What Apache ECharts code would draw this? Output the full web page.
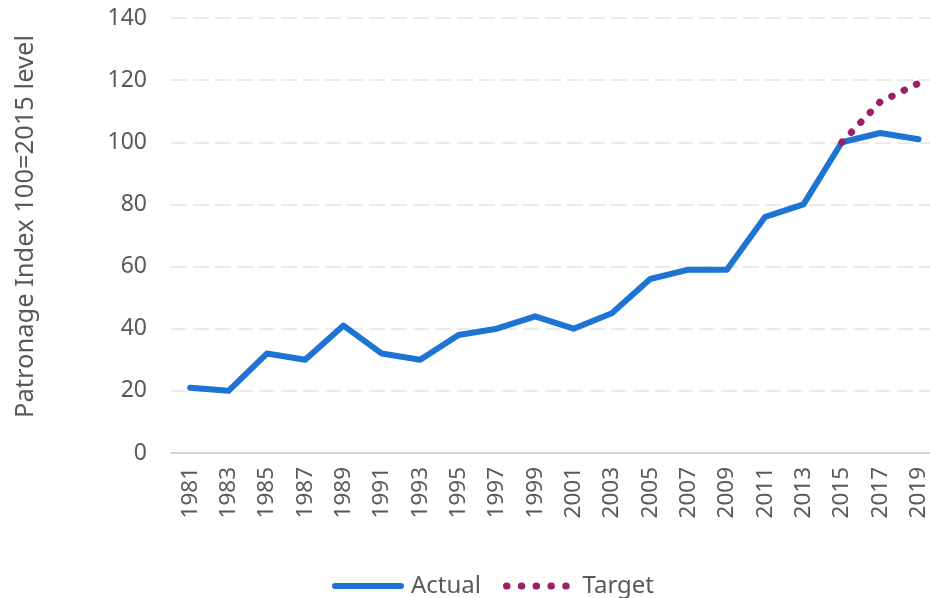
<!DOCTYPE html>
<html>
<head>
<meta charset="utf-8">
<script src="https://cdn.jsdelivr.net/npm/echarts@6/dist/echarts.min.js"></script>
<style>
  html, body { margin: 0; padding: 0; background: #fff; }
  #chart { width: 930px; height: 598px; }
</style>
</head>
<body>
<div id="chart"></div>
<script>
// Patronage index, 100 = 2015 level
const years = [1981, 1983, 1985, 1987, 1989, 1991, 1993, 1995, 1997, 1999,
               2001, 2003, 2005, 2007, 2009, 2011, 2013, 2015, 2017, 2019];
const actual = [21, 20, 32, 30, 41, 32, 30, 38, 40, 44, 40, 45, 56, 59, 59, 76, 80, 100, 103, 101];
const target = [null, null, null, null, null, null, null, null, null, null,
                null, null, null, null, null, null, null, 100, 113, 119];
const yTicks = { min: 0, max: 140, interval: 20 };

const textColor = '#595959';
const font = 'Noto Sans';
const blue = '#1e74d2';
const plum = '#9b1f6a';

const pairs = (vals) => years.map((y, i) => [y, vals[i]]).filter(p => p[1] !== null);

const actualLine = { color: blue, width: 6, cap: 'round', join: 'round' };
const targetLine = { color: plum, width: 7, type: [0.5, 13.2], cap: 'round' };

const chart = echarts.init(document.getElementById('chart'), null, { renderer: 'canvas' });
chart.setOption({
  animation: false,
  textStyle: { fontFamily: font, color: textColor },
  grid: { left: 171, top: 18, right: 0, bottom: 145, containLabel: false },
  xAxis: {
    type: 'value',
    min: 1980,
    max: 2019.6,
    axisLine: { show: true, onZero: false, lineStyle: { color: '#d4d4d4', width: 2 } },
    axisTick: { show: false },
    splitLine: { show: false },
    axisLabel: {
      customValues: years,
      rotate: 90, fontSize: 22.5, color: textColor, fontFamily: font, margin: 14,
      formatter: (v) => String(v)
    }
  },
  yAxis: {
    type: 'value',
    min: yTicks.min, max: yTicks.max, interval: yTicks.interval,
    name: 'Patronage Index 100=2015 level',
    nameLocation: 'middle',
    nameGap: 132,
    nameRotate: 90,
    nameTextStyle: { fontSize: 25.5, color: textColor, fontFamily: font, padding: [0, 0, 0, 18] },
    axisLine: { show: false },
    axisTick: { show: false },
    axisLabel: { fontSize: 23, color: textColor, fontFamily: font, margin: 24 },
    splitLine: { lineStyle: { color: '#ebebeb', width: 2, type: [16, 6] } }
  },
  legend: {
    top: 569,
    left: 327,
    itemWidth: 66,
    itemHeight: 14,
    itemGap: 22,
    itemStyle: { opacity: 0 },
    textStyle: { fontSize: 24, color: textColor, fontFamily: font, padding: [0, 0, 0, 5] },
    data: [
      { name: 'Actual', lineStyle: { width: 6, cap: 'round' } },
      { name: 'Target', lineStyle: { width: 7, type: [0.5, 14.3], cap: 'round' } }
    ]
  },
  series: [
    {
      name: 'Actual',
      type: 'line',
      data: pairs(actual),
      symbol: 'none',
      lineStyle: actualLine,
      itemStyle: { color: blue },
      z: 2
    },
    {
      name: 'Target',
      type: 'line',
      data: pairs(target),
      symbol: 'none',
      lineStyle: targetLine,
      itemStyle: { color: plum },
      z: 3
    }
  ]
});
</script>
</body>
</html>
